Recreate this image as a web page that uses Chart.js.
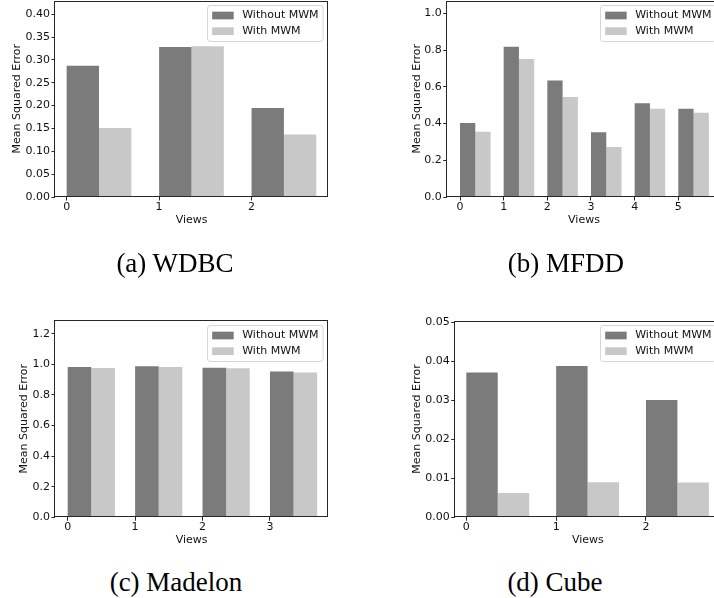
<!DOCTYPE html>
<html>
<head>
<meta charset="utf-8">
<script src="https://cdn.jsdelivr.net/npm/chart.js@4.4.1/dist/chart.umd.min.js"></script>
<style>
  html, body { margin: 0; padding: 0; background: #fff; }
  body { width: 714px; height: 598px; position: relative; overflow: hidden; }
  .panel { position: absolute; }
  .caption {
    position: absolute; width: 240px; text-align: center;
    font-family: 'Liberation Serif', serif; font-size: 27px; line-height: 30px; color: #000;
  }
</style>
</head>
<body>
<div class="panel" style="left:0;top:0"><canvas id="wdbc" width="357" height="250"></canvas></div>
<div class="panel" style="left:357px;top:0"><canvas id="mfdd" width="380" height="250"></canvas></div>
<div class="panel" style="left:0;top:310px"><canvas id="madelon" width="357" height="250"></canvas></div>
<div class="panel" style="left:357px;top:310px"><canvas id="cube" width="380" height="250"></canvas></div>

<div class="caption" style="left:55px;top:248px">(a) WDBC</div>
<div class="caption" style="left:446px;top:248px">(b) MFDD</div>
<div class="caption" style="left:56px;top:567px">(c) Madelon</div>
<div class="caption" style="left:435px;top:567px">(d) Cube</div>

<script>
// mean squared error per view, without / with MWM
const seriesNames = ['Without MWM', 'With MWM'];

const wdbcViews = [0, 1, 2];
const wdbcWithout = [0.287, 0.328, 0.195];
const wdbcWith = [0.151, 0.330, 0.137];
const wdbcTicks = [0, 0.05, 0.10, 0.15, 0.20, 0.25, 0.30, 0.35, 0.40];

const mfddViews = [0, 1, 2, 3, 4, 5];
const mfddWithout = [0.403, 0.818, 0.634, 0.353, 0.511, 0.481];
const mfddWith = [0.355, 0.751, 0.544, 0.272, 0.481, 0.459];
const mfddTicks = [0, 0.2, 0.4, 0.6, 0.8, 1.0];

const madelonViews = [0, 1, 2, 3];
const madelonWithout = [0.982, 0.987, 0.978, 0.954];
const madelonWith = [0.976, 0.982, 0.974, 0.946];
const madelonTicks = [0, 0.2, 0.4, 0.6, 0.8, 1.0, 1.2];

const cubeViews = [0, 1, 2];
const cubeWithout = [0.0371, 0.0388, 0.0301];
const cubeWith = [0.0062, 0.0090, 0.0089];
const cubeTicks = [0, 0.01, 0.02, 0.03, 0.04, 0.05];

const DARK = '#7b7b7b';
const LIGHT = '#c8c8c8';
const AXIS = '#262626';
const TEXT = '#111';
const FONT = 'DejaVu Sans';
const FONT_SIZE = 11;
const LH = FONT_SIZE * 1.2;
const BAR_W = 0.35;       // bar width in view units, bars start at the view tick
const X_AXIS_H = 44;

Chart.defaults.font.family = FONT;
Chart.defaults.font.size = FONT_SIZE;
Chart.defaults.color = TEXT;

// box around the plot area, drawn over the bars
const framePlugin = {
  id: 'frame',
  afterDatasetsDraw(chart) {
    const { ctx, chartArea: c } = chart;
    const l = Math.round(c.left) - 0.5, t = Math.round(c.top) + 0.5;
    const r = Math.round(c.right) - 0.5, b = Math.round(c.bottom) - 0.5;
    ctx.save();
    ctx.strokeStyle = AXIS;
    ctx.lineWidth = 1;
    ctx.strokeRect(l, t, r - l, b - t);
    ctx.restore();
  }
};

// legend box in the upper right corner of the plot
const legendPlugin = {
  id: 'cornerLegend',
  afterDraw(chart) {
    const { ctx, chartArea: c } = chart;
    const sets = chart.data.datasets;
    ctx.save();
    ctx.font = FONT_SIZE + 'px "' + FONT + '"';
    const textW = Math.max(...sets.map(d => ctx.measureText(d.label).width));
    const w = 4.7 + 21.5 + 8.5 + textW + 4.6;
    const h = 36;
    const x = Math.round(c.right - 5.3 - w) + 0.5;
    const y = Math.round(c.top + 4.6) + 0.5;
    ctx.beginPath();
    ctx.roundRect(x, y, w, h, 3);
    ctx.fillStyle = 'rgba(255,255,255,0.8)';
    ctx.fill();
    ctx.strokeStyle = 'rgba(204,204,204,0.8)';
    ctx.lineWidth = 1;
    ctx.stroke();
    sets.forEach((d, i) => {
      const cy = y + 10 + i * 15.7;
      ctx.fillStyle = d.backgroundColor;
      ctx.fillRect(x + 4.7, cy - 3.85, 21.5, 7.7);
      ctx.fillStyle = TEXT;
      ctx.textBaseline = 'middle';
      ctx.textAlign = 'left';
      ctx.fillText(d.label, x + 34.7, cy);
    });
    ctx.restore();
  }
};

const panels = [
  { id: 'wdbc', views: wdbcViews, without: wdbcWithout, withMwm: wdbcWith, yTicks: wdbcTicks, digits: 2,
    xRange: [-0.126, 2.83], yMax: 0.43,
    area: { left: 55, top: 0.5, right: 328.3, bottom: 197 }, yTitleX: 16.7, xTitleY: 220 },
  { id: 'mfdd', views: mfddViews, without: mfddWithout, withMwm: mfddWith, yTicks: mfddTicks, digits: 1,
    xRange: [-0.305, 5.985], yMax: 1.07,
    area: { left: 89.7, top: 0.5, right: 364.3, bottom: 197 }, yTitleX: 60, xTitleY: 220 },
  { id: 'madelon', views: madelonViews, without: madelonWithout, withMwm: madelonWith, yTicks: madelonTicks, digits: 1,
    xRange: [-0.188, 3.865], yMax: 1.29,
    area: { left: 55, top: 10, right: 328.3, bottom: 207.3 }, yTitleX: 23.7, xTitleY: 230 },
  { id: 'cube', views: cubeViews, without: cubeWithout, withMwm: cubeWith, yTicks: cubeTicks, digits: 2,
    xRange: [-0.129, 2.835], yMax: 0.0504,
    area: { left: 97.7, top: 10.7, right: 364, bottom: 207.3 }, yTitleX: 60, xTitleY: 230 }
];

function toPoints(views, values) {
  // each pair of bars is centred half a pair to the right of its view tick
  return views.map((v, i) => ({ x: v + BAR_W, y: values[i] }));
}

panels.forEach(p => {
  const canvas = document.getElementById(p.id);
  const a = p.area;
  new Chart(canvas, {
    type: 'bar',
    data: {
      datasets: [
        { label: seriesNames[0], data: toPoints(p.views, p.without), backgroundColor: DARK,
          categoryPercentage: 2 * BAR_W, barPercentage: 1 },
        { label: seriesNames[1], data: toPoints(p.views, p.withMwm), backgroundColor: LIGHT,
          categoryPercentage: 2 * BAR_W, barPercentage: 1 }
      ]
    },
    options: {
      responsive: false,
      animation: false,
      layout: {
        padding: { left: 0, top: a.top, right: canvas.width - a.right, bottom: canvas.height - a.bottom - X_AXIS_H }
      },
      plugins: { legend: { display: false }, tooltip: { enabled: false } },
      scales: {
        x: {
          type: 'linear', min: p.xRange[0], max: p.xRange[1], bounds: 'data', offset: false,
          grid: { offset: false, drawOnChartArea: false, tickLength: 3.5, tickColor: AXIS, tickWidth: 1 },
          border: { display: false },
          ticks: { padding: 0, autoSkip: false, maxRotation: 0, callback: v => String(v) },
          afterBuildTicks: s => { s.ticks = p.views.map(v => ({ value: v })); },
          afterFit: s => { s.height = X_AXIS_H; s.paddingLeft = 0; s.paddingRight = 0; },
          title: { display: true, text: 'Views',
                   padding: { top: 0, bottom: a.bottom + X_AXIS_H - p.xTitleY - LH / 2 } }
        },
        y: {
          min: 0, max: p.yMax, bounds: 'data',
          grid: { drawOnChartArea: false, tickLength: 3.5, tickColor: AXIS, tickWidth: 1 },
          border: { display: false },
          ticks: { padding: 1.5, autoSkip: false, callback: v => v.toFixed(p.digits) },
          afterBuildTicks: s => { s.ticks = p.yTicks.map(v => ({ value: v })); },
          afterFit: s => { s.width = a.left; s.paddingTop = 0; s.paddingBottom = 0; },
          title: { display: true, text: 'Mean Squared Error',
                   padding: { top: p.yTitleX - LH / 2, bottom: 0 } }
        }
      }
    },
    plugins: [framePlugin, legendPlugin]
  });
});
</script>
</body>
</html>
